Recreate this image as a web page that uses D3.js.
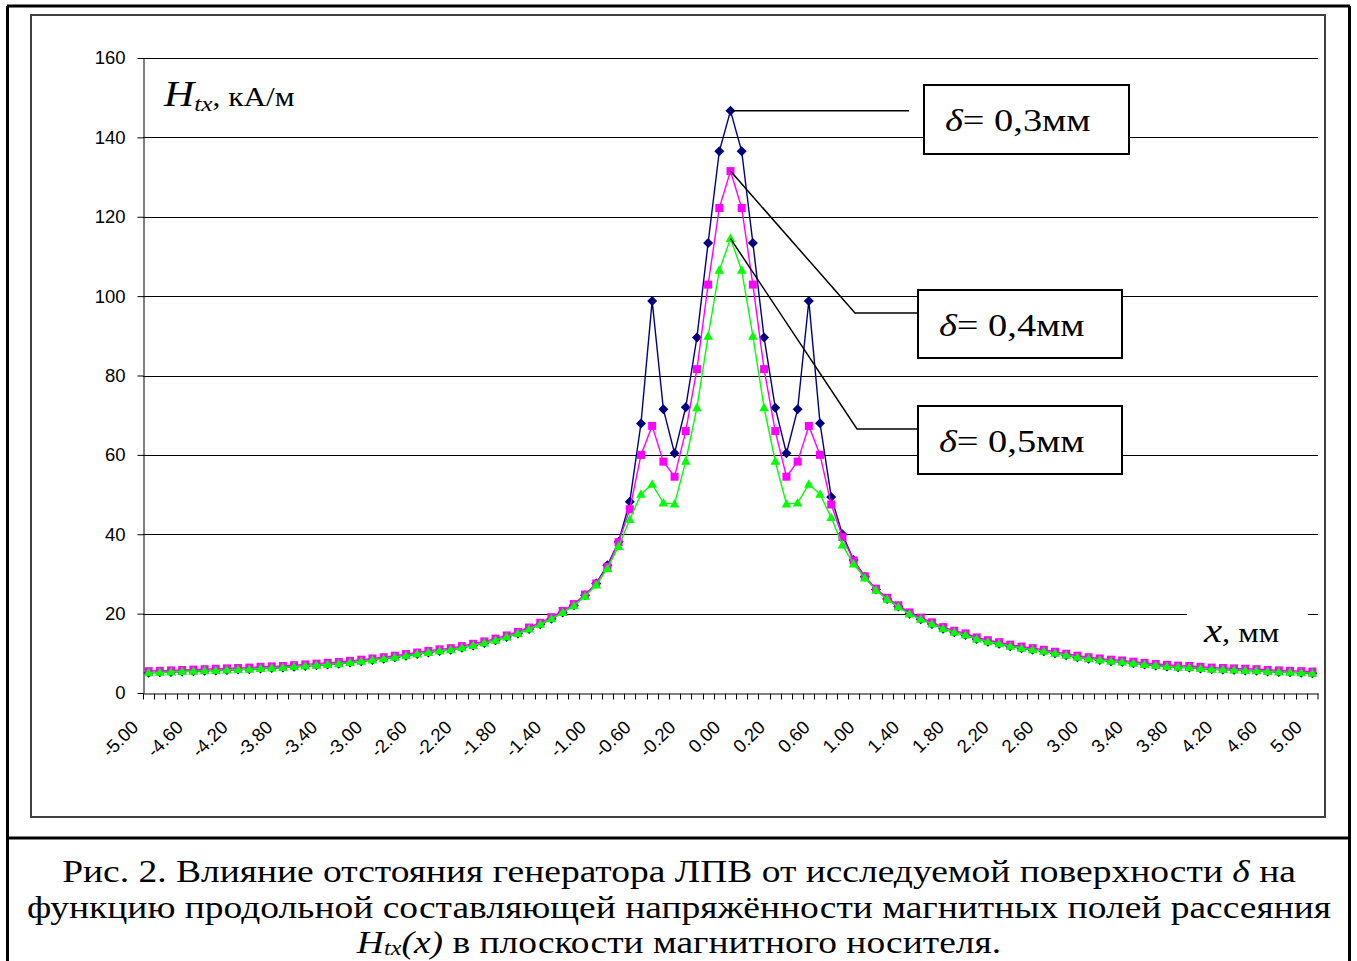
<!DOCTYPE html>
<html lang="ru">
  <head>
    <meta charset="utf-8" />
    <title>Htx(x)</title>
    <script src="https://d3js.org/d3.v7.min.js"></script>
    <style>
      body { margin: 0; background: #fff; }
      svg { display: block; }
      .serif { font-family: "Liberation Serif", "Times New Roman", serif; }
      .axis text { font-family: "Liberation Sans", Arial, sans-serif; font-size: 18.5px; fill: #000; }
      .axis path, .axis line { stroke: #000; }
    </style>
  </head>
  <body>
    <div id="content"></div>
    <script>
      // x, mm (categories of the Excel line chart)
      var categories = [-5.0,-4.9,-4.8,-4.7,-4.6,-4.5,-4.4,-4.3,-4.2,-4.1,-4.0,-3.9,-3.8,-3.7,-3.6,-3.5,-3.4,-3.3,-3.2,-3.1,
        -3.0,-2.9,-2.8,-2.7,-2.6,-2.5,-2.4,-2.3,-2.2,-2.1,-2.0,-1.9,-1.8,-1.7,-1.6,-1.5,-1.4,-1.3,-1.2,-1.1,
        -1.0,-0.9,-0.8,-0.7,-0.6,-0.5,-0.4,-0.3,-0.2,-0.15,-0.1,-0.05,0,0.05,0.1,0.15,0.2,
        0.3,0.4,0.5,0.6,0.7,0.8,0.9,1.0,1.1,1.2,1.3,1.4,1.5,1.6,1.7,1.8,1.9,2.0,2.1,2.2,2.3,2.4,2.5,2.6,2.7,2.8,2.9,
        3.0,3.1,3.2,3.3,3.4,3.5,3.6,3.7,3.8,3.9,4.0,4.1,4.2,4.3,4.4,4.5,4.6,4.7,4.8,4.9,5.0];

      // Htx, kA/m for delta = 0,3 mm
      var h03 = [5.1,5.2,5.3,5.4,5.5,5.6,5.7,5.8,5.9,6.0,
        6.2,6.3,6.4,6.6,6.8,7.0,7.2,7.4,7.7,8.0,
        8.3,8.6,9.0,9.4,9.8,10.2,10.6,10.9,11.4,12.0,
        12.6,13.3,14.1,15.0,16.1,17.3,18.7,20.3,22.1,24.6,
        27.6,32.2,38.1,48.2,67.9,98.8,71.5,60.4,72.0,
        89.6,113.4,136.5,146.7,
        136.5,113.4,89.6,71.9,
        60.4,71.5,98.8,68.0,49.4,40.0,33.5,29.3,26.1,23.7,
        21.8,20.0,18.6,17.4,16.2,15.3,14.6,13.6,12.9,12.4,
        11.8,11.3,10.9,10.5,10.0,9.5,9.0,8.6,8.3,8.0,
        7.8,7.5,7.2,6.9,6.7,6.5,6.4,6.2,6.0,5.9,
        5.8,5.7,5.6,5.4,5.3,5.2,5.1,5.0];

      // delta = 0,4 mm
      var h04 = [5.5,5.6,5.7,5.8,5.9,6.0,6.1,6.2,6.3,6.4,
        6.6,6.7,6.8,7.0,7.2,7.4,7.6,7.8,8.1,8.4,
        8.7,9.0,9.4,9.8,10.2,10.6,11.0,11.3,11.8,12.4,
        13.0,13.7,14.5,15.4,16.5,17.7,19.1,20.7,22.4,24.8,
        27.6,31.8,38.0,46.3,60.0,67.3,58.3,54.5,66.0,
        81.6,102.9,122.2,131.5,
        122.2,102.9,81.6,66.0,
        54.5,58.3,67.3,60.0,47.5,39.3,33.4,29.4,26.3,24.0,
        22.1,20.3,19.0,17.8,16.6,15.7,15.0,14.0,13.3,12.8,
        12.2,11.7,11.3,10.9,10.4,9.9,9.4,9.0,8.7,8.4,
        8.2,7.9,7.6,7.3,7.1,6.9,6.8,6.6,6.4,6.3,
        6.2,6.1,6.0,5.8,5.7,5.6,5.5,5.4];

      // delta = 0,5 mm
      var h05 = [5.1,5.2,5.3,5.4,5.5,5.6,5.7,5.8,5.9,6.0,
        6.2,6.3,6.4,6.6,6.8,7.0,7.2,7.4,7.7,8.0,
        8.3,8.6,9.0,9.4,9.8,10.2,10.6,10.9,11.4,12.0,
        12.6,13.3,14.1,15.0,16.1,17.3,18.7,20.3,22.0,24.4,
        27.2,31.4,36.9,43.7,50.1,52.6,47.9,47.6,58.4,
        71.9,89.9,106.5,114.5,
        106.5,89.9,71.9,58.4,
        47.6,47.9,52.6,50.1,44.2,37.3,32.5,29.0,25.9,23.6,
        21.7,19.9,18.6,17.4,16.2,15.3,14.6,13.6,12.9,12.4,
        11.8,11.3,10.9,10.5,10.0,9.5,9.0,8.6,8.3,8.0,
        7.8,7.5,7.2,6.9,6.7,6.5,6.4,6.2,6.0,5.9,
        5.8,5.7,5.6,5.4,5.3,5.2,5.1,5.0];

      var seriesNames = ["0,3", "0,4", "0,5"];
      var seriesColors = ["#000080", "#ff00ff", "#00ff00"];
      var seriesMarkers = ["diamond", "square", "triangle"];
      var yTicks = [0, 20, 40, 60, 80, 100, 120, 140, 160];

      var width = 1357;
      var height = 961;

      var svg = d3
        .select("#content")
        .append("svg")
        .attr("width", width)
        .attr("height", height);

      var x = d3.scaleBand().domain(categories).range([143, 1318]).padding(0);
      var y = d3.scaleLinear().domain([0, 160]).range([693, 58]);

      // the serif text in the picture is stretched sideways
      function stretched(px, py, sx) {
        return svg
          .append("g")
          .attr("transform", "translate(" + px + "," + py + ") scale(" + sx + ",1)")
          .append("text")
          .attr("class", "serif")
          .attr("fill", "#000");
      }

      // document table frame
      var frame = svg.append("g").attr("stroke", "#000").attr("stroke-width", 3);
      frame.append("line").attr("x1", 7).attr("y1", 6).attr("x2", 1350).attr("y2", 6);
      frame.append("line").attr("x1", 7.5).attr("y1", 6).attr("x2", 7.5).attr("y2", 961);
      frame.append("line").attr("x1", 1349.5).attr("y1", 6).attr("x2", 1349.5).attr("y2", 961);
      frame.append("line").attr("x1", 7).attr("y1", 838).attr("x2", 1350).attr("y2", 838);

      // chart area border
      svg
        .append("rect")
        .attr("x", 31)
        .attr("y", 15)
        .attr("width", 1294)
        .attr("height", 802)
        .attr("fill", "none")
        .attr("stroke", "#404040")
        .attr("stroke-width", 2);

      // gridlines
      svg
        .append("g")
        .selectAll("line")
        .data(yTicks.slice(1))
        .enter()
        .append("line")
        .attr("x1", 143)
        .attr("x2", 1318)
        .attr("y1", function (d) { return Math.round(y(d)) + 0.5; })
        .attr("y2", function (d) { return Math.round(y(d)) + 0.5; })
        .attr("stroke", "#000")
        .attr("stroke-width", 1.2);

      // y axis
      svg
        .append("g")
        .attr("class", "axis")
        .attr("transform", "translate(143.5,0)")
        .call(d3.axisLeft(y).tickValues(yTicks).tickSize(6).tickSizeOuter(0).tickPadding(12));

      // x axis: labels every 4th category, ticks between categories
      var xAxis = svg
        .append("g")
        .attr("class", "axis")
        .attr("transform", "translate(0,693.5)")
        .call(
          d3
            .axisBottom(x)
            .tickValues(categories.filter(function (d, i) { return i % 4 === 0; }))
            .tickFormat(function (d) { return d.toFixed(2); })
            .tickSize(0)
            .tickSizeOuter(0)
        );
      xAxis
        .selectAll(".tick text")
        .attr("x", 0)
        .attr("y", 0)
        .attr("dy", 0)
        .attr("text-anchor", "end")
        .attr("transform", "translate(-9,35) rotate(-45)");

      xAxis
        .append("g")
        .selectAll("line")
        .data(categories.concat(["end"]))
        .enter()
        .append("line")
        .attr("x1", function (d) { return d === "end" ? 1318 : Math.round(x(d)) + 0.5; })
        .attr("x2", function (d) { return d === "end" ? 1318 : Math.round(x(d)) + 0.5; })
        .attr("y1", 0)
        .attr("y2", 6)
        .attr("stroke", "#000");

      // series
      var lineGen = d3
        .line()
        .x(function (d, i) { return x(categories[i]) + x.bandwidth() / 2; })
        .y(function (d) { return y(d); });

      function markerPath(kind) {
        if (kind === "diamond") return "M0,-5L5,0L0,5L-5,0Z";
        if (kind === "square") return "M-4,-4H4V4H-4Z";
        return "M0,-5L4.8,3.5H-4.8Z";
      }

      [h03, h04, h05].forEach(function (values, s) {
        var g = svg.append("g");
        g.append("path")
          .attr("d", lineGen(values))
          .attr("fill", "none")
          .attr("stroke", seriesColors[s])
          .attr("stroke-width", 1.4);
        g.selectAll("path.m")
          .data(values)
          .enter()
          .append("path")
          .attr("class", "m")
          .attr("d", markerPath(seriesMarkers[s]))
          .attr("transform", function (d, i) {
            return "translate(" + (x(categories[i]) + x.bandwidth() / 2) + "," + y(d) + ")";
          })
          .attr("fill", seriesColors[s]);
      });

      // axis titles
      var yTitle = stretched(164, 106, 1.16);
      yTitle.append("tspan").attr("font-style", "italic").attr("font-size", 36).text("H");
      yTitle.append("tspan").attr("font-style", "italic").attr("font-size", 22).attr("dy", 5).text("tx");
      yTitle.append("tspan").attr("font-size", 27).attr("dy", -5).text(", кА/м");

      svg
        .append("rect")
        .attr("x", 1187)
        .attr("y", 604)
        .attr("width", 121)
        .attr("height", 46)
        .attr("fill", "#fff");
      var xTitle = stretched(1204, 642, 1.2);
      xTitle.append("tspan").attr("font-style", "italic").attr("font-size", 34).text("x");
      xTitle.append("tspan").attr("font-size", 27).text(", мм");

      // callouts
      var idx0 = categories.indexOf(0);
      var cx0 = x(categories[idx0]) + x.bandwidth() / 2;
      var callouts = [
        { values: h03, pts: [[909, null]], box: [924, 85, 205, 69] },
        { values: h04, pts: [[855, 313], [918, 313]], box: [918, 290, 204, 68] },
        { values: h05, pts: [[857, 429], [918, 429]], box: [918, 406, 204, 68] },
      ];
      callouts.forEach(function (c, s) {
        var py = y(c.values[idx0]);
        var pts = [[cx0, py]].concat(
          c.pts.map(function (p) { return [p[0], p[1] === null ? py : p[1]]; })
        );
        svg
          .append("path")
          .attr("d", d3.line()(pts))
          .attr("fill", "none")
          .attr("stroke", "#000")
          .attr("stroke-width", 1.5);
        svg
          .append("rect")
          .attr("x", c.box[0])
          .attr("y", c.box[1])
          .attr("width", c.box[2])
          .attr("height", c.box[3])
          .attr("fill", "#fff")
          .attr("stroke", "#000")
          .attr("stroke-width", 2);
        var t = stretched(c.box[0] + 21, c.box[1] + 46, 1.2).attr("font-size", 32);
        t.append("tspan").attr("font-style", "italic").text("δ");
        t.append("tspan").text("= " + seriesNames[s] + "мм");
      });

      // caption
      var l1 = stretched(679, 882, 1.21).attr("font-size", 31).attr("text-anchor", "middle");
      l1.append("tspan").text("Рис. 2. Влияние отстояния генератора ЛПВ от исследуемой поверхности ");
      l1.append("tspan").attr("font-style", "italic").text("δ");
      l1.append("tspan").text(" на");
      stretched(679, 918, 1.21)
        .attr("font-size", 31)
        .attr("text-anchor", "middle")
        .text("функцию продольной составляющей напряжённости магнитных полей рассеяния");
      var l3 = stretched(679, 953, 1.21).attr("font-size", 31).attr("text-anchor", "middle");
      l3.append("tspan").attr("font-style", "italic").text("H");
      l3.append("tspan").attr("font-style", "italic").attr("font-size", 20).attr("dy", 2).text("tx");
      l3.append("tspan").attr("font-style", "italic").attr("dy", -2).text("(x)");
      l3.append("tspan").text(" в плоскости магнитного носителя.");
    </script>
  </body>
</html>
